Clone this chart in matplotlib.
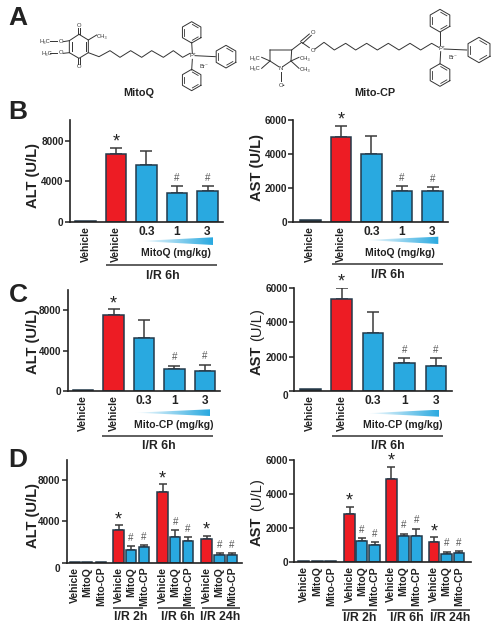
import matplotlib
matplotlib.use("Agg")
import matplotlib.pyplot as plt
from matplotlib.patches import Polygon
import numpy as np

plt.rcParams['font.family'] = ['Liberation Sans', 'DejaVu Sans']

W = 501
H = 632
INK = '#222222'
RED = '#ed1c24'
BLUE = '#29a9e0'
EDGE = '#23394a'

# data
dose_labels = ['Vehicle', 'Vehicle', '0.3', '1', '3']
time_labels = ['Vehicle', 'MitoQ', 'Mito-CP'] * 4

alt_mitoq = [60, 6700, 5550, 2850, 3000]
alt_mitoq_top = [60, 7300, 7000, 3500, 3500]
ast_mitoq = [100, 5000, 4000, 1800, 1800]
ast_mitoq_top = [100, 5650, 5050, 2080, 2050]

alt_mitocp = [80, 7500, 5250, 2150, 2000]
alt_mitocp_top = [80, 8100, 7100, 2500, 2600]
ast_mitocp = [100, 5350, 3400, 1650, 1450]
ast_mitocp_top = [100, 6000, 4620, 1930, 1900]

alt_time = [100, 100, 100, 3150, 1250, 1550, 6900, 2500, 2100, 2250, 750, 700]
alt_time_top = [100, 100, 100, 3650, 1600, 1700, 7600, 3150, 2450, 2600, 900, 900]
ast_time = [100, 100, 100, 2850, 1250, 1000, 4900, 1550, 1530, 1170, 500, 560]
ast_time_top = [100, 100, 100, 3250, 1420, 1200, 5600, 1680, 1980, 1470, 620, 650]

dose_colors = ['#333333', RED, BLUE, BLUE, BLUE]
dose_marks = ['', '*', '', '#', '#']
time_colors = ['#333333'] * 3 + [RED, BLUE, BLUE] * 3
time_marks = ['', '', '', '*', '#', '#', '*', '#', '#', '*', '#', '#']


fig = plt.figure(figsize=(W / 100, H / 100), dpi=100)

# overlay in pixel coordinates for the labels and the chemical drawings
over = fig.add_axes([0, 0, 1, 1], zorder=5)
over.set_xlim(0, W)
over.set_ylim(H, 0)
over.axis('off')
over.patch.set_alpha(0)


def panel(rect, centers, width, vals, tops, colors, marks, labels, yticks, ymax,
          zero_shift=0, cap=4, tick_fs=7.2, lab_fs=7.5):
    x0, x1, ytop, ybase = rect
    ax = fig.add_axes([x0 / W, 1 - ybase / H, (x1 - x0) / W, (ybase - ytop) / H])
    ax.patch.set_alpha(0)
    ax.set_xlim(x0, x1)
    ax.set_ylim(0, ymax)
    ax.bar(centers, vals, width=width, color=colors, edgecolor=EDGE, linewidth=1.1, zorder=2)
    for c, v, t, m in zip(centers, vals, tops, marks):
        if t > v:
            ax.errorbar(c, v, yerr=[[0], [t - v]], color='#3a3a3a', lw=1.1, capsize=cap,
                        capthick=1.1, zorder=1)
        if m == '*':
            ax.annotate(m, (c, t), xytext=(0, 4), textcoords='offset points', ha='center',
                        va='center', fontsize=13, color=INK, annotation_clip=False)
        elif m == '#':
            ax.annotate(m, (c, t), xytext=(0, 6), textcoords='offset points', ha='center',
                        va='center', fontsize=7, color='#555555', annotation_clip=False)
    for s in ['top', 'right']:
        ax.spines[s].set_visible(False)
    for s in ['left', 'bottom']:
        ax.spines[s].set_linewidth(1.2)
        ax.spines[s].set_color(INK)
    ax.set_yticks(yticks)
    ax.set_yticklabels([str(t) for t in yticks], fontsize=tick_fs, fontweight='bold', color=INK)
    ax.tick_params(axis='y', length=3.5, width=1.1, pad=1, color=INK)
    ax.set_xticks(centers)
    ax.set_xticklabels(labels, fontweight='bold', color=INK)
    ax.tick_params(axis='x', length=0, pad=3)
    for lab in ax.get_xticklabels():
        if lab.get_text()[0].isdigit():
            lab.set_rotation(0)
            lab.set_fontsize(8.6)
        else:
            lab.set_rotation(90)
            lab.set_fontsize(lab_fs)
        lab.set_va('top')
    if zero_shift:
        zero = ax.get_yticklabels()[0]
        zero.set_transform(zero.get_transform() + matplotlib.transforms.ScaledTranslation(0, -zero_shift / 100, fig.dpi_scale_trans))
    return ax


def wedge(x0, x1, ymid, ytop, ybot):
    grad = np.linspace(0, 1, 128).reshape(1, -1)
    cmap = matplotlib.colors.LinearSegmentedColormap.from_list('w', ['#ffffff', BLUE])
    im = over.imshow(grad, extent=[x0, x1, ybot, ytop], cmap=cmap, aspect='auto', zorder=1)
    clip = Polygon([(x0, ymid), (x1, ytop), (x1, ybot)], transform=over.transData, fc='none', ec='none')
    over.add_patch(clip)
    im.set_clip_path(clip)
    over.set_xlim(0, W)
    over.set_ylim(H, 0)


def txt(x, y, s, fs=7.5, weight='bold', rot=0, color=INK):
    over.text(x, y, s, fontsize=fs, fontweight=weight, rotation=rot, ha='center', va='center', color=color)


def rule(x0, x1, y, lw=1.1):
    over.plot([x0, x1], [y, y], color='#333333', lw=lw, solid_capstyle='butt')


# panel B
panel((70, 223, 120, 221.7), [85.5, 116.2, 146.4, 177, 207.5], 20.5, alt_mitoq, alt_mitoq_top,
      dose_colors, dose_marks, dose_labels, [0, 4000, 8000], 10040)
panel((293.3, 448, 120, 221.7), [310.4, 340.9, 371.4, 402, 432.5], 20.5, ast_mitoq, ast_mitoq_top,
      dose_colors, dose_marks, dose_labels, [0, 2000, 4000, 6000], 6000)

# panel C
panel((67.7, 220, 290, 391), [83, 113.7, 144.2, 174.4, 204.9], 20.5, alt_mitocp, alt_mitocp_top,
      dose_colors, dose_marks, dose_labels, [0, 4000, 8000], 10030)
panel((294.3, 451.7, 288, 391), [310.4, 341.5, 373, 404.4, 436], 20.8, ast_mitocp, ast_mitocp_top,
      dose_colors, dose_marks, dose_labels, [0, 2000, 4000, 6000], 6000, zero_shift=4)

# panel D
panel((66.7, 241.7, 460, 562.7),
      [75, 87, 101, 118.7, 130.8, 144, 162.5, 175.2, 187.8, 206.7, 219.5, 232],
      10.5, alt_time, alt_time_top, time_colors, time_marks, time_labels, [0, 4000, 8000], 9960,
      zero_shift=5, cap=3, lab_fs=7.6)
panel((294.3, 470.7, 460, 562.3),
      [303.7, 317.2, 330.8, 349.7, 361.8, 374.5, 391.3, 403.7, 416.3, 434, 446.5, 459],
      10.8, ast_time, ast_time_top, time_colors, time_marks, time_labels, [0, 2000, 4000, 6000], 6000,
      cap=3, lab_fs=7.6)

# axis titles
txt(33, 176, 'ALT (U/L)', 10.6, rot=90)
txt(33, 341.7, 'ALT (U/L)', 10.6, rot=90)
txt(33, 516, 'ALT (U/L)', 10.6, rot=90)
txt(257, 167.7, 'AST (U/L)', 10.6, rot=90)
txt(257, 360.7, 'AST', 10.6, rot=90)
txt(257, 325, '(U/L)', 10.6, 'normal', rot=90)
txt(257, 531, 'AST', 10.6, rot=90)
txt(257, 495, '(U/L)', 10.6, 'normal', rot=90)

# panel letters
txt(18, 18, 'A', 19)
txt(18, 112, 'B', 19)
txt(18, 295, 'C', 19)
txt(18, 460, 'D', 19)

# dose wedges and captions
wedge(139.3, 213.3, 241, 237.3, 245)
wedge(365, 438.3, 240, 236.7, 244)
wedge(135, 210, 412.7, 409.3, 416)
wedge(366.7, 439, 413.3, 409.7, 416.7)
txt(175.7, 253.3, 'MitoQ (mg/kg)')
txt(400, 252.7, 'MitoQ (mg/kg)')
txt(173.3, 425, 'Mito-CP (mg/kg)')
txt(402.3, 425, 'Mito-CP (mg/kg)')

# I/R brackets
rule(106, 217.3, 265)
rule(331.7, 442.7, 264.3)
rule(102, 213.3, 435.7)
rule(331.7, 442.7, 435.7)
txt(163, 276, 'I/R 6h', 8.8)
txt(388, 275, 'I/R 6h', 8.8)
txt(159, 445.7, 'I/R 6h', 8.8)
txt(387.7, 445.7, 'I/R 6h', 8.8)
for a, b, c, s in [(113, 143, 130.7, 'I/R 2h'), (158, 195, 178.3, 'I/R 6h'), (201.7, 240, 220, 'I/R 24h')]:
    rule(a, b, 608)
    txt(c, 616.7, s, 8.8)
for a, b, c, s in [(341.7, 376.7, 360, 'I/R 2h'), (387.3, 423.3, 407.3, 'I/R 6h'), (431, 470, 450, 'I/R 24h')]:
    rule(a, b, 610)
    txt(c, 618.3, s, 8.8)


def bond(pts, lw=0.7):
    p = np.array(pts) / 3.0
    over.plot(p[:, 0], p[:, 1], color='#333333', lw=lw)


def phenyl(cx, cy, r):
    ang = np.radians(np.arange(30, 391, 60))
    xs = cx + r * np.cos(ang)
    ys = cy + r * np.sin(ang)
    bond(list(zip(xs, ys)))
    # inner double bonds
    for i in [0, 2, 4]:
        a = np.array([xs[i], ys[i]])
        b = np.array([xs[i + 1], ys[i + 1]])
        m = np.array([cx, cy])
        bond([a + (m - a) * 0.22 + (b - a) * 0.08, b + (m - b) * 0.22 + (a - b) * 0.08], lw=0.6)


def atom(x, y, s, fs=4.2):
    txt(x / 3.0, y / 3.0, s, fs, 'normal', color='#333333')


# MitoQ
bond([(237, 103), (265, 120), (265, 158), (237, 175), (208, 158), (208, 122), (237, 103)])
bond([(258, 126), (258, 152)])
bond([(215, 126), (215, 152)])
bond([(233, 85), (233, 103)])
bond([(241, 85), (241, 103)])
bond([(233, 175), (233, 192)])
bond([(241, 175), (241, 192)])
bond([(208, 122), (190, 125)])
bond([(208, 158), (190, 160)])
bond([(150, 124), (172, 124)])
bond([(150, 160), (172, 160)])
bond([(265, 120), (290, 105)])
bond([(265, 158), (297, 170), (330, 152), (360, 172), (392, 152), (425, 172), (455, 152),
      (490, 172), (520, 152), (548, 172), (570, 160)])
bond([(577, 160), (575, 127)])
bond([(585, 167), (646, 170)])
bond([(577, 178), (575, 210)])
phenyl(575, 97, 32)
phenyl(678, 170, 34)
phenyl(575, 240, 32)
atom(135, 125, 'H₃C')
atom(182, 125, 'O')
atom(140, 160, 'H₃C')
atom(182, 158, 'O')
atom(305, 110, 'CH₃')
atom(237, 77, 'O')
atom(237, 199, 'O')
atom(578, 166, 'P⁺')
atom(612, 198, 'Br⁻')
txt(138.5, 92.7, 'MitoQ', 7.8)

# Mito-CP
bond([(810, 150), (875, 150), (873, 183), (848, 200)])
bond([(836, 200), (810, 183), (810, 150)])
bond([(875, 150), (905, 127), (928, 143)])
bond([(902, 124), (928, 102)])
bond([(908, 130), (934, 106)])
bond([(945, 147), (972, 127), (1003, 150), (1037, 130), (1067, 150), (1100, 130), (1132, 150),
      (1165, 130), (1197, 150), (1230, 130), (1262, 150), (1295, 130), (1316, 142)])
bond([(810, 183), (785, 172)])
bond([(810, 183), (785, 205)])
bond([(873, 183), (897, 172)])
bond([(873, 183), (897, 205)])
bond([(842, 215), (842, 243)])
bond([(1320, 135), (1320, 95)])
bond([(1332, 147), (1400, 150)])
bond([(1322, 155), (1320, 192)])
phenyl(1320, 62, 34)
phenyl(1437, 150, 38)
phenyl(1320, 225, 34)
atom(765, 175, 'H₃C')
atom(765, 206, 'H₃C')
atom(915, 175, 'CH₃')
atom(915, 207, 'CH₃')
atom(842, 206, 'N')
atom(846, 257, 'O•')
atom(938, 98, 'O')
atom(938, 150, 'O')
atom(1325, 146, 'P⁺')
atom(1360, 172, 'Br⁻')
txt(375, 92.7, 'Mito-CP', 7.8)

plt.savefig('out.png', dpi=100)
